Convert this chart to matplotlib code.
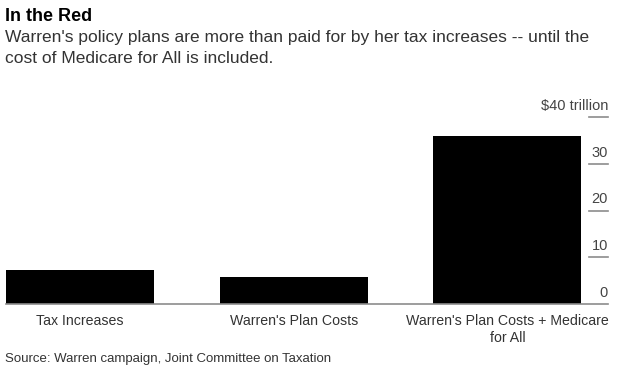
import matplotlib
matplotlib.use("Agg")
import matplotlib.pyplot as plt
import matplotlib.transforms as mtransforms

categories = ["Tax Increases", "Warren's Plan Costs", "Warren's Plan Costs + Medicare\nfor All"]
values = [7.3, 5.7, 36.0]
yticks = [0, 10, 20, 30, 40]
ytick_labels = ["0", "10", "20", "30", "$40 trillion"]

title = "In the Red"
subtitle_lines = ["Warren's policy plans are more than paid for by her tax increases -- until the",
                  "cost of Medicare for All is included."]
source = "Source: Warren campaign, Joint Committee on Taxation"

plt.rcParams['font.family'] = ['Liberation Sans', 'DejaVu Sans']

fig = plt.figure(figsize=(6.2, 3.69), dpi=100)
ax = fig.add_axes([6/620, 1 - 304/369, (608 - 6)/620, (304 - 117.3)/369])

width = 0.693
x = list(range(len(categories)))
ax.bar(x, values, width=width, color="black", zorder=2)

ax.set_ylim(0, 40)
ax.set_xlim(-width/2, -width/2 + (608 - 6)/213.7)

for s in ["top", "left", "right"]:
    ax.spines[s].set_visible(False)
ax.spines["bottom"].set_color("#8c8c8c")
ax.spines["bottom"].set_linewidth(1.2)
ax.set_yticks([])
ax.set_xticks([])

# custom tick marks on the right
trans = mtransforms.blended_transform_factory(ax.transAxes, ax.transData)
x0 = 1 - 19/602
for t, lab in zip(yticks, ytick_labels):
    if t != 0:
        ax.plot([x0, 1.0], [t, t], transform=trans, color="#8c8c8c", lw=1.2, clip_on=False, zorder=3)
    ax.annotate(lab, xy=(1.0, t), xycoords=trans, xytext=(0, 3), textcoords="offset points",
                ha="right", va="bottom", fontsize=10.5, color="#444444")

# category labels
for xi, c in zip(x, categories):
    ax.annotate(c, xy=(xi, 0), xycoords="data", xytext=(0, -7), textcoords="offset points",
                ha="center", va="top", fontsize=10.2, color="#333333", linespacing=1.3)

fig.text(5/620, 1 - 20.7/369, title, ha="left", va="baseline", fontsize=13, fontweight="bold", color="black")
fig.text(5/620, 1 - 41.7/369, subtitle_lines[0], ha="left", va="baseline", fontsize=12.5, color="#333333")
fig.text(5/620, 1 - 63.3/369, subtitle_lines[1], ha="left", va="baseline", fontsize=12.5, color="#333333")
fig.text(5/620, 1 - 362/369, source, ha="left", va="baseline", fontsize=9.5, color="#333333")

fig.savefig("out.png", dpi=100)
